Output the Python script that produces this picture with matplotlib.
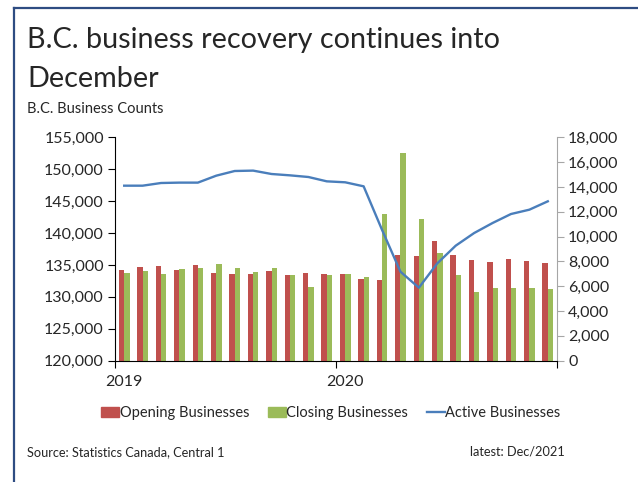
import numpy as np
import matplotlib
matplotlib.use("Agg")
import matplotlib.pyplot as plt
from matplotlib.lines import Line2D
from matplotlib.patches import Patch
from matplotlib.ticker import FuncFormatter

plt.rcParams['font.family'] = ['Lato', 'DejaVu Sans']

# monthly, Jan 2019 .. Dec 2020
months = np.arange(24)
year_labels = ["2019", "2020"]

opening = [7280, 7580, 7630, 7280, 7690, 7070, 7020, 6990, 7200, 6880, 7070, 7020,
           7020, 6590, 6530, 8550, 8440, 9620, 8550, 8150, 7930, 8200, 8010, 7900]
closing = [7070, 7230, 6990, 7390, 7470, 7770, 7470, 7150, 7470, 6880, 5940, 6910,
           6960, 6750, 11830, 16750, 11420, 8710, 6910, 5540, 5860, 5860, 5860, 5810]
active = [147420, 147420, 147840, 147900, 147900, 148990, 149720, 149780, 149250, 149040, 148780, 148100,
          147950, 147320, 140500, 133940, 131440, 135250, 138020, 140000, 141570, 142980, 143660, 144970]

red = "#c0504d"
green = "#9bbb59"
blue = "#4a7ebb"
txt = "#262626"

fig = plt.figure(figsize=(6.38, 4.82), dpi=100)
ax = fig.add_axes([115/638, 1 - 360.7/482, 442/638, 223.4/482])
ax2 = ax.twinx()

bw = 0.29
ax2.bar(months - bw/2, opening, width=bw, color=red, label="Opening Businesses")
ax2.bar(months + bw/2, closing, width=bw, color=green, label="Closing Businesses")
ax2.set_ylim(0, 18000)
ax2.set_yticks(np.arange(0, 18001, 2000))
ax2.yaxis.set_major_formatter(FuncFormatter(lambda v, p: f"{int(v):,}"))

ax.plot(months, active, color=blue, lw=1.7, label="Active Businesses")
ax.set_ylim(120000, 155000)
ax.set_yticks(np.arange(120000, 155001, 5000))
ax.yaxis.set_major_formatter(FuncFormatter(lambda v, p: f"{int(v):,}"))
ax.set_zorder(ax2.get_zorder() + 1)
ax.patch.set_visible(False)

ax.set_xlim(-0.5, 23.5)
ax.set_xticks([-0.5, 11.5, 23.5])
ax.set_xticklabels([])
ax.set_xticks([0, 12], minor=True)
ax.set_xticklabels(year_labels, minor=True)
ax.tick_params(axis="x", which="major", length=5, direction="out", color="black")
ax.tick_params(axis="x", which="minor", length=0, pad=10, labelsize=11.5, labelcolor=txt)
ax.tick_params(axis="y", length=5, direction="out", labelsize=11.5, labelcolor=txt, pad=3)
ax2.tick_params(axis="y", length=5, direction="out", labelsize=11.5, labelcolor=txt,
                color="#a6a6a6", pad=3)

for a in (ax, ax2):
    a.spines["top"].set_visible(False)
ax.spines["right"].set_visible(False)
ax2.spines["left"].set_visible(False)
ax2.spines["bottom"].set_visible(False)
ax2.spines["right"].set_color("#a6a6a6")
ax.spines["left"].set_color("black")
ax.spines["bottom"].set_color("black")

handles = [Patch(color=red), Patch(color=green), Line2D([0], [0], color=blue, lw=1.7)]
labels = ["Opening Businesses", "Closing Businesses", "Active Businesses"]
fig.legend(handles, labels, loc="center", bbox_to_anchor=(331/638, 1 - 413/482), ncol=3,
           frameon=False, fontsize=10.5, handlelength=1.2, handleheight=0.7,
           handletextpad=0.05, columnspacing=1.3, labelcolor=txt)

fig.text(27/638, 1 - 48.3/482, "B.C. business recovery continues into", fontsize=20.7,
         color=txt, va="baseline")
fig.text(27/638, 1 - 86.7/482, "December", fontsize=20.7, color=txt, va="baseline")
fig.text(27/638, 1 - 112.7/482, "B.C. Business Counts", fontsize=10.5, color=txt, va="baseline")
fig.text(27/638, 1 - 452/482, "Source: Statistics Canada, Central 1", fontsize=9.2,
         color=txt, va="center")
fig.text(565/638, 1 - 452/482, "latest: Dec/2021", fontsize=9.2, color=txt, va="center", ha="right")

# frame lines on left and top
fig.add_artist(Line2D([13.5/638, 13.5/638], [0, 1 - 8/482], color="#2e4c82", lw=1.6))
fig.add_artist(Line2D([13.5/638, 1], [1 - 8/482, 1 - 8/482], color="#2e4c82", lw=1.6))

fig.savefig("out.png", dpi=100)
